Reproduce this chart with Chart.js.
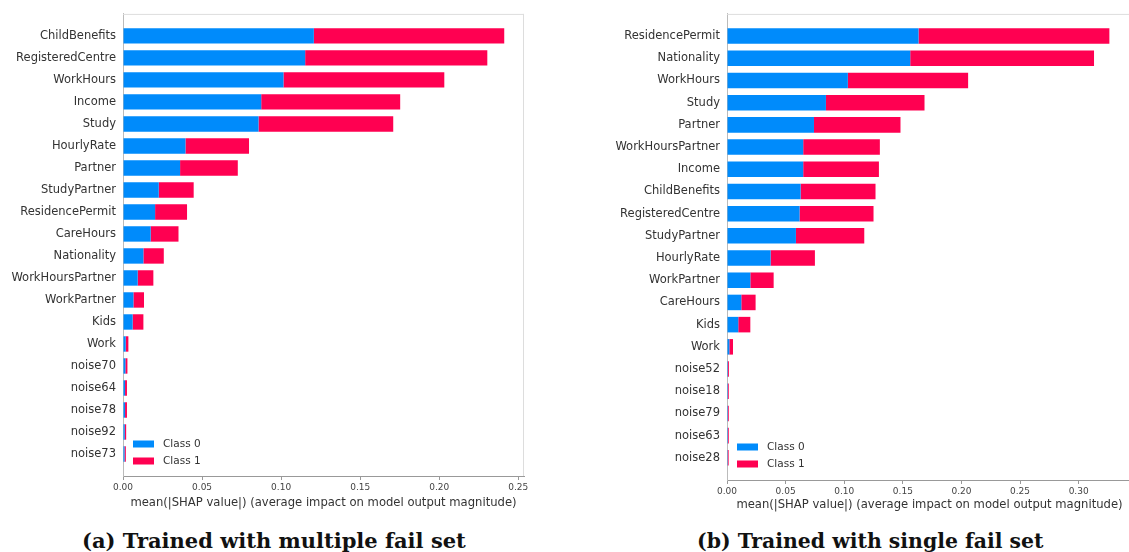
<!DOCTYPE html>
<html>
<head>
<meta charset="utf-8">
<script src="https://cdn.jsdelivr.net/npm/chart.js@4"></script>
<style>
  body { margin: 0; background: #fff; }
  #wrap { position: relative; width: 1129px; height: 552px; overflow: hidden; }
  .panel { position: absolute; top: 0; height: 520px; }
  .caption { position: absolute; top: 530px; font: bold 21px/21px "DejaVu Serif", serif; color: #111; white-space: nowrap; }
</style>
</head>
<body>
<div id="wrap">
  <div class="panel" style="left:0;width:545px"><canvas id="chartA"></canvas></div>
  <div class="panel" style="left:580px;width:552px"><canvas id="chartB"></canvas></div>
  <div class="caption" style="left:82px">(a) Trained with multiple fail set</div>
  <div class="caption" style="left:697px;top:531px;font-size:20.4px;line-height:20.4px">(b) Trained with single fail set</div>
</div>
<script>
// (a) trained with multiple fail set
const featuresA = ['ChildBenefits', 'RegisteredCentre', 'WorkHours', 'Income', 'Study', 'HourlyRate',
  'Partner', 'StudyPartner', 'ResidencePermit', 'CareHours', 'Nationality', 'WorkHoursPartner',
  'WorkPartner', 'Kids', 'Work', 'noise70', 'noise64', 'noise78', 'noise92', 'noise73']
const class0A = [0.1207, 0.1152, 0.1015, 0.0874, 0.0857, 0.0395, 0.0361, 0.0226, 0.0203, 0.0175,
  0.0129, 0.0093, 0.0066, 0.0061, 0.0017, 0.0015, 0.0013, 0.0013, 0.0011, 0.0010]
const class1A = [0.1204, 0.1152, 0.1017, 0.0879, 0.0852, 0.0402, 0.0365, 0.0221, 0.0202, 0.0176,
  0.0129, 0.0099, 0.0067, 0.0068, 0.0017, 0.0013, 0.0012, 0.0012, 0.0009, 0.0008]
const xTicksA = [0, 0.05, 0.10, 0.15, 0.20, 0.25]
const xMaxA = 0.2536

// (b) trained with single fail set
const featuresB = ['ResidencePermit', 'Nationality', 'WorkHours', 'Study', 'Partner', 'WorkHoursPartner',
  'Income', 'ChildBenefits', 'RegisteredCentre', 'StudyPartner', 'HourlyRate', 'WorkPartner',
  'CareHours', 'Kids', 'Work', 'noise52', 'noise18', 'noise79', 'noise63', 'noise28']
const class0B = [0.1634, 0.1563, 0.1031, 0.0844, 0.0742, 0.0650, 0.0650, 0.0628, 0.0619, 0.0588,
  0.0372, 0.0199, 0.0122, 0.0096, 0.0020, 0.0008, 0.0008, 0.0008, 0.0008, 0.0007]
const class1B = [0.1628, 0.1568, 0.1026, 0.0841, 0.0738, 0.0654, 0.0646, 0.0639, 0.0631, 0.0583,
  0.0378, 0.0199, 0.0122, 0.0103, 0.0031, 0.0008, 0.0007, 0.0007, 0.0007, 0.0007]
const xTicksB = [0, 0.05, 0.10, 0.15, 0.20, 0.25, 0.30]
const xMaxB = 0.3455

const BLUE = '#008bfb'
const RED = '#ff0051'
const FONT = '"DejaVu Sans", sans-serif'

// light top/right spines
const framePlugin = {
  id: 'frame',
  afterDraw(chart, args, opts) {
    const { ctx, chartArea: a } = chart
    ctx.save()
    ctx.strokeStyle = '#dddddd'
    ctx.lineWidth = 1
    ctx.beginPath()
    ctx.moveTo(a.left, a.top + 0.5)
    ctx.lineTo(a.right, a.top + 0.5)
    if (opts.right) {
      ctx.moveTo(a.right - 0.5, a.top)
      ctx.lineTo(a.right - 0.5, a.bottom)
    }
    ctx.stroke()
    ctx.restore()
  }
}

// legend sitting inside the plot, lower left
const innerLegend = {
  id: 'innerLegend',
  afterDraw(chart, args, opts) {
    const { ctx, chartArea: a } = chart
    ctx.save()
    ctx.font = '10.5px ' + FONT
    ctx.textBaseline = 'middle'
    chart.data.datasets.forEach((ds, i) => {
      const y = a.bottom - opts.bottom + i * 17
      ctx.fillStyle = ds.backgroundColor
      ctx.fillRect(a.left + 10, y - 3.5, 21, 7)
      ctx.fillStyle = '#333333'
      ctx.fillText(ds.label, a.left + 40, y)
    })
    ctx.restore()
  }
}

function makeChart(id, features, c0, c1, ticks, xMax, o) {
  // empty slots at both ends give the padding above the first and below the last bar
  const labels = ['', ...features, '']
  const pad = arr => [null, ...arr, null]

  return new Chart(document.getElementById(id), {
    type: 'bar',
    data: {
      labels,
      datasets: [
        { label: 'Class 0', data: pad(c0), backgroundColor: BLUE },
        { label: 'Class 1', data: pad(c1), backgroundColor: RED }
      ]
    },
    options: {
      indexAxis: 'y',
      responsive: true,
      maintainAspectRatio: false,
      animation: false,
      barPercentage: 0.7,
      categoryPercentage: 1,
      layout: { padding: { top: 12, right: o.padRight, bottom: 0, left: 0 } },
      plugins: {
        legend: { display: false },
        tooltip: { enabled: false },
        frame: { right: o.rightSpine },
        innerLegend: { bottom: o.legendBottom }
      },
      scales: {
        x: {
          stacked: true,
          min: 0,
          max: xMax,
          afterBuildTicks: s => { s.ticks = ticks.map(v => ({ value: v })) },
          afterFit: s => { s.height = o.xHeight },
          grid: { drawOnChartArea: false, tickLength: 4, color: '#999999' },
          border: { color: '#999999' },
          ticks: {
            color: '#444444',
            font: { family: FONT, size: 9 },
            padding: 2,
            maxRotation: 0,
            callback: v => v.toFixed(2)
          },
          title: {
            display: true,
            text: 'mean(|SHAP value|) (average impact on model output magnitude)',
            color: '#333333',
            font: { family: FONT, size: 11.6 },
            padding: { top: 0, bottom: o.titlePad }
          }
        },
        y: {
          stacked: true,
          offset: false,
          afterFit: s => { s.width = o.yWidth },
          grid: { display: false, tickLength: 0 },
          border: { color: '#bbbbbb' },
          ticks: {
            color: '#333333',
            font: { family: FONT, size: 11.5 },
            padding: 7,
            autoSkip: false
          }
        }
      }
    },
    plugins: [framePlugin, innerLegend]
  })
}

makeChart('chartA', featuresA, class0A, class1A, xTicksA, xMaxA,
  { padRight: 21, yWidth: 123, xHeight: 44, titlePad: 10, rightSpine: true, legendBottom: 32 })
makeChart('chartB', featuresB, class0B, class1B, xTicksB, xMaxB,
  { padRight: 0, yWidth: 147, xHeight: 40, titlePad: 8, rightSpine: false, legendBottom: 33 })
</script>
</body>
</html>
